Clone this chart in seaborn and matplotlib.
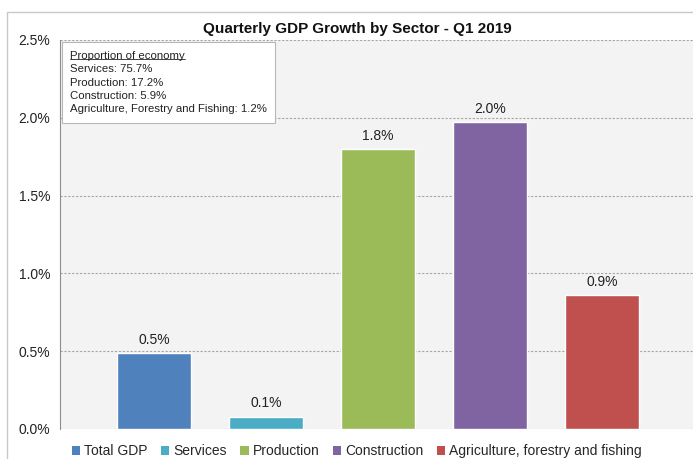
import matplotlib
matplotlib.use("Agg")
import matplotlib.pyplot as plt
from matplotlib.patches import Rectangle
import seaborn as sns
import pandas as pd

# Quarter-on-quarter growth, %
sectors = ["Total GDP", "Services", "Production", "Construction",
           "Agriculture, forestry and fishing"]
growth = [0.49, 0.08, 1.80, 1.97, 0.86]
colors = ["#4F81BD", "#4BACC6", "#9BBB59", "#8064A2", "#C0504D"]

# Share of the economy, shown in the note box
shares_title = "Proportion of economy"
shares = ["Services: 75.7%", "Production: 17.2%", "Construction: 5.9%",
          "Agriculture, Forestry and Fishing: 1.2%"]

y_ticks = [0.0, 0.5, 1.0, 1.5, 2.0, 2.5]

sns.set_style("white")
plt.rcParams["font.family"] = ["Liberation Sans", "DejaVu Sans"]

df = pd.DataFrame({"sector": sectors, "growth": growth})

fig = plt.figure(figsize=(6.93, 4.59), dpi=100)
fig.patch.set_facecolor("white")
ax = fig.add_axes([60 / 693, 30 / 459, 1 - 60 / 693, 389 / 459])

sns.barplot(data=df, x="sector", y="growth", hue="sector", order=sectors,
            hue_order=sectors, palette=colors, width=0.66, dodge=False,
            legend=False, saturation=1, ax=ax)

ax.set_facecolor("#f3f3f3")
ax.set_xlim(-0.84, 4.81)
ax.set_ylim(0, 2.5)
ax.set_yticks(y_ticks)
ax.set_yticklabels([f"{t:.1f}%" for t in y_ticks], fontsize=10, color="#222222")
ax.set_xticks([])
ax.set_xlabel("")
ax.set_ylabel("")
ax.tick_params(axis="y", length=0, pad=7)
for t in y_ticks:
    ax.axhline(t, color="#a6a6a6", lw=0.8, ls=(0, (2, 1.5)), zorder=0.5)
for side in ["top", "right", "bottom"]:
    ax.spines[side].set_visible(False)
ax.spines["left"].set_color("#8c8c8c")
ax.spines["left"].set_linewidth(0.8)

# value labels above bars
for i, v in enumerate(growth):
    ax.text(i, v + 0.04, f"{v:.1f}%", ha="center", va="bottom",
            fontsize=10, color="#222222")

# note box with sector shares
note_x, note_y, note_fs = -0.75, 2.43, 8.2
note = ax.text(note_x, note_y, "\n".join([shares_title] + shares),
               ha="left", va="top", fontsize=note_fs, color="#222222",
               linespacing=1.42,
               bbox=dict(boxstyle="square,pad=0.75", fc="white",
                         ec="#b8b8b8", lw=0.8))
fig.canvas.draw()
renderer = fig.canvas.get_renderer()
# underline the first line of the note
first = ax.text(note_x, note_y, shares_title, ha="left", va="top",
                fontsize=note_fs)
fb = first.get_window_extent(renderer)
first.remove()
inv = fig.transFigure.inverted()
x0, y0 = inv.transform((fb.x0, fb.y0 + 1.5))
x1, _ = inv.transform((fb.x1, 0))
fig.add_artist(plt.Line2D([x0, x1], [y0, y0], color="#222222", lw=0.6))

# title
fig.text(0.515, 1 - 29 / 459, "Quarterly GDP Growth by Sector - Q1 2019",
         ha="center", va="center", fontsize=11, fontweight="bold",
         color="#111111")

# chart outer border
fig.add_artist(Rectangle((7 / 693, -0.1), 1.2, (459 - 12) / 459 + 0.1,
                         transform=fig.transFigure, fill=False,
                         ec="#c8c8c8", lw=1.0))

# legend
handles = [Rectangle((0, 0), 1, 1, fc=c, ec="none") for c in colors]
fig.legend(handles, sectors, loc="center", bbox_to_anchor=(0.515, 8 / 459),
           ncol=5, frameon=False, fontsize=10, handlelength=0.6,
           handleheight=0.6, handletextpad=0.3, columnspacing=0.95,
           borderaxespad=0, borderpad=0)

fig.savefig("out.png", dpi=100)
